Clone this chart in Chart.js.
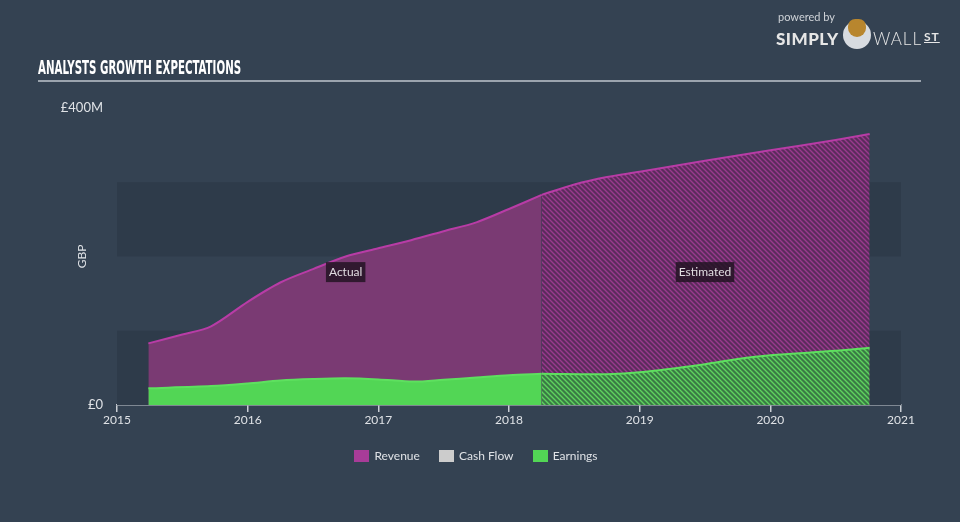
<!DOCTYPE html>
<html>
<head>
<meta charset="utf-8">
<script src="https://cdn.jsdelivr.net/npm/chart.js@4.4.1/dist/chart.umd.min.js"></script>
<style>
    html, body { margin: 0; padding: 0; background: #344252; width: 960px; height: 522px; overflow: hidden; font-family: Lato, "Open Sans", sans-serif; }
    #wrap { position: relative; width: 960px; height: 522px; }
    #chart { position: absolute; left: 0; top: 0; }
    .title { position: absolute; left: 38px; top: 56px; color: #fff; font-family: "Liberation Sans Narrow", "DejaVu Sans Condensed", sans-serif; font-weight: bold; font-size: 19px; white-space: nowrap; transform: scaleX(0.6); transform-origin: left; }
    .rule { position: absolute; left: 38px; top: 80px; width: 883px; height: 2px; background: #9ba4ae; }
    .logo { position: absolute; left: 776px; top: 8px; color: #e6e6e6; white-space: nowrap; }
    .logo .pb { position: absolute; left: 2px; top: 2px; font-size: 11px; color: #cfd3d8; }
    .logo .simply { position: absolute; left: 0; top: 20px; font-size: 17px; font-weight: 900; letter-spacing: 0.5px; }
    .logo .wall { position: absolute; left: 97px; top: 20px; font-size: 17px; letter-spacing: 1px; font-weight: 300; }
    .logo .st { font-size: 12px; font-weight: 700; text-decoration: underline; vertical-align: 4px; margin-left: 2px; }
    .bull { position: absolute; left: 67px; top: 13px; width: 28px; height: 28px; border-radius: 50%; background: #d7dbe0; }
    .bull::after { content: ''; position: absolute; left: 5px; top: -2px; width: 18px; height: 18px; border-radius: 40% 40% 50% 50%; background: #b8862e; }
    .legend { position: absolute; top: 448px; left: -4px; width: 960px; text-align: center; font-size: 12px; color: #dfe2e6; }
    .legend span.item { display: inline-block; margin: 0 8px; }
    .legend i { display: inline-block; width: 15px; height: 12px; vertical-align: -2px; margin-right: 5px; }
</style>
</head>
<body>
<div id="wrap">
    <canvas id="chart" width="960" height="522"></canvas>
    <div class="title">ANALYSTS GROWTH EXPECTATIONS</div>
    <div class="rule"></div>
    <div class="logo">
        <div class="pb">powered by</div>
        <div class="simply">SIMPLY</div>
        <div class="bull"></div>
        <div class="wall">WALL<span class="st">ST</span></div>
    </div>
    <div class="legend">
        <span class="item"><i style="background:#a83c98"></i>Revenue</span>
        <span class="item"><i style="background:#cccccc"></i>Cash Flow</span>
        <span class="item"><i style="background:#52d655"></i>Earnings</span>
    </div>
</div>
<script>
// years as decimal, values in £M
const revenueActualX = [2015.24, 2015.5, 2015.72, 2016.0, 2016.25, 2016.5, 2016.75, 2017.0, 2017.25, 2017.5, 2017.75, 2018.0, 2018.25];
const revenueActualY = [83, 95, 106, 139, 165, 183, 200, 211, 222, 234, 246, 264, 283];
const revenueEstX = [2018.25, 2018.5, 2018.75, 2019.0, 2019.5, 2020.0, 2020.5, 2020.76];
const revenueEstY = [283, 297, 307, 314, 329, 343, 357, 365];
const earningsActualX = [2015.24, 2015.72, 2016.0, 2016.25, 2016.5, 2016.75, 2017.0, 2017.27, 2017.5, 2017.75, 2018.0, 2018.25];
const earningsActualY = [22.5, 25.5, 29, 33, 35, 36, 34.5, 31.5, 34, 37, 40, 42];
const earningsEstX = [2018.25, 2018.75, 2019.0, 2019.5, 2019.75, 2020.0, 2020.5, 2020.76];
const earningsEstY = [42, 41.5, 44, 55, 62, 67, 73, 77];
const yearTicks = [2015, 2016, 2017, 2018, 2019, 2020, 2021];
const bands = [[0, 100], [200, 300]];

function pts(xs, ys) {
    return xs.map((x, i) => ({ x: x, y: ys[i] }));
}

function hatch(base, line) {
    const c = document.createElement('canvas');
    c.width = 5; c.height = 5;
    const g = c.getContext('2d');
    g.fillStyle = base;
    g.fillRect(0, 0, 5, 5);
    g.strokeStyle = line;
    g.lineWidth = 1.4;
    g.beginPath();
    g.moveTo(-1, -1); g.lineTo(6, 6);
    g.moveTo(-1, 4); g.lineTo(1, 6);
    g.moveTo(4, -1); g.lineTo(6, 1);
    g.stroke();
    return g.createPattern(c, 'repeat');
}

const ctx = document.getElementById('chart').getContext('2d');
const revHatch = hatch('#5b2c5c', '#9a3a8e');
const earnHatch = hatch('#3a7a45', '#5fd35f');

const bandPlugin = {
    id: 'bands',
    beforeDatasetsDraw(chart) {
        const { ctx, chartArea, scales } = chart;
        ctx.save();
        ctx.fillStyle = '#2e3b4a';
        bands.forEach(b => {
            const y1 = scales.y.getPixelForValue(b[1]);
            const y0 = scales.y.getPixelForValue(b[0]);
            ctx.fillRect(chartArea.left, y1, chartArea.right - chartArea.left, y0 - y1);
        });
        // axis title
        ctx.translate(82, (chartArea.top + chartArea.bottom) / 2);
        ctx.rotate(-Math.PI / 2);
        ctx.font = '12px Lato, "Open Sans", sans-serif';
        ctx.fillStyle = '#dfe2e6';
        ctx.textAlign = 'center';
        ctx.textBaseline = 'middle';
        ctx.fillText('GBP', 0, 0);
        ctx.restore();
    },
    afterDatasetsDraw(chart) {
        const { ctx, scales } = chart;
        const labels = [['Actual', 2016.75], ['Estimated', 2019.5]];
        ctx.save();
        ctx.font = '12px Lato, "Open Sans", sans-serif';
        ctx.textBaseline = 'middle';
        ctx.textAlign = 'center';
        labels.forEach(l => {
            const x = scales.x.getPixelForValue(l[1]);
            const y = scales.y.getPixelForValue(179);
            const w = ctx.measureText(l[0]).width + 6;
            ctx.fillStyle = 'rgba(35,20,35,0.85)';
            ctx.fillRect(x - w / 2, y - 10, w, 20);
            ctx.fillStyle = '#e0dce0';
            ctx.fillText(l[0], x, y);
        });
        ctx.restore();
    }
};

new Chart(ctx, {
    type: 'line',
    data: {
        datasets: [
            {
                label: 'Earnings',
                data: pts(earningsActualX, earningsActualY),
                borderColor: '#5ee05f',
                backgroundColor: '#52d655',
                fill: 'origin',
                borderWidth: 2,
                tension: 0.3,
                pointRadius: 0,
                order: 0
            },
            {
                label: 'Earnings est',
                data: pts(earningsEstX, earningsEstY),
                borderColor: '#5ee05f',
                backgroundColor: earnHatch,
                fill: 'origin',
                borderWidth: 2,
                tension: 0.3,
                pointRadius: 0,
                order: 0
            },
            {
                label: 'Revenue',
                data: pts(revenueActualX, revenueActualY),
                borderColor: '#b83ca6',
                backgroundColor: '#7a3a73',
                fill: 'origin',
                borderWidth: 2,
                tension: 0.3,
                pointRadius: 0,
                order: 1
            },
            {
                label: 'Revenue est',
                data: pts(revenueEstX, revenueEstY),
                borderColor: '#b83ca6',
                backgroundColor: revHatch,
                fill: 'origin',
                borderWidth: 2,
                tension: 0.3,
                pointRadius: 0,
                order: 1
            }
        ]
    },
    options: {
        responsive: false,
        animation: false,
        layout: { padding: { left: 0, top: 108, right: 59, bottom: 0 } },
        plugins: { legend: { display: false }, tooltip: { enabled: false } },
        scales: {
            x: {
                type: 'linear',
                min: 2015,
                max: 2021,
                afterBuildTicks: s => { s.ticks = yearTicks.map(v => ({ value: v })); },
                afterFit: s => { s.height = 117; },
                border: { display: true, color: '#c9ced4', width: 1.5 },
                grid: { drawOnChartArea: false, drawTicks: true, tickLength: 7, color: '#c9ced4', lineWidth: 1.5 },
                ticks: { color: '#dfe2e6', font: { size: 12, family: 'Lato' }, padding: 1, callback: v => String(v) }
            },
            y: {
                min: 0,
                max: 400,
                afterBuildTicks: s => { s.ticks = [{ value: 0 }, { value: 400 }]; },
                afterFit: s => { s.width = 117; },
                border: { display: false },
                grid: { display: false },
                ticks: { color: '#dfe2e6', font: { size: 13, family: 'Lato' }, padding: 6, callback: v => v === 0 ? '£0' : '£' + v + 'M' }
            }
        }
    },
    plugins: [bandPlugin]
});
</script>
</body>
</html>
